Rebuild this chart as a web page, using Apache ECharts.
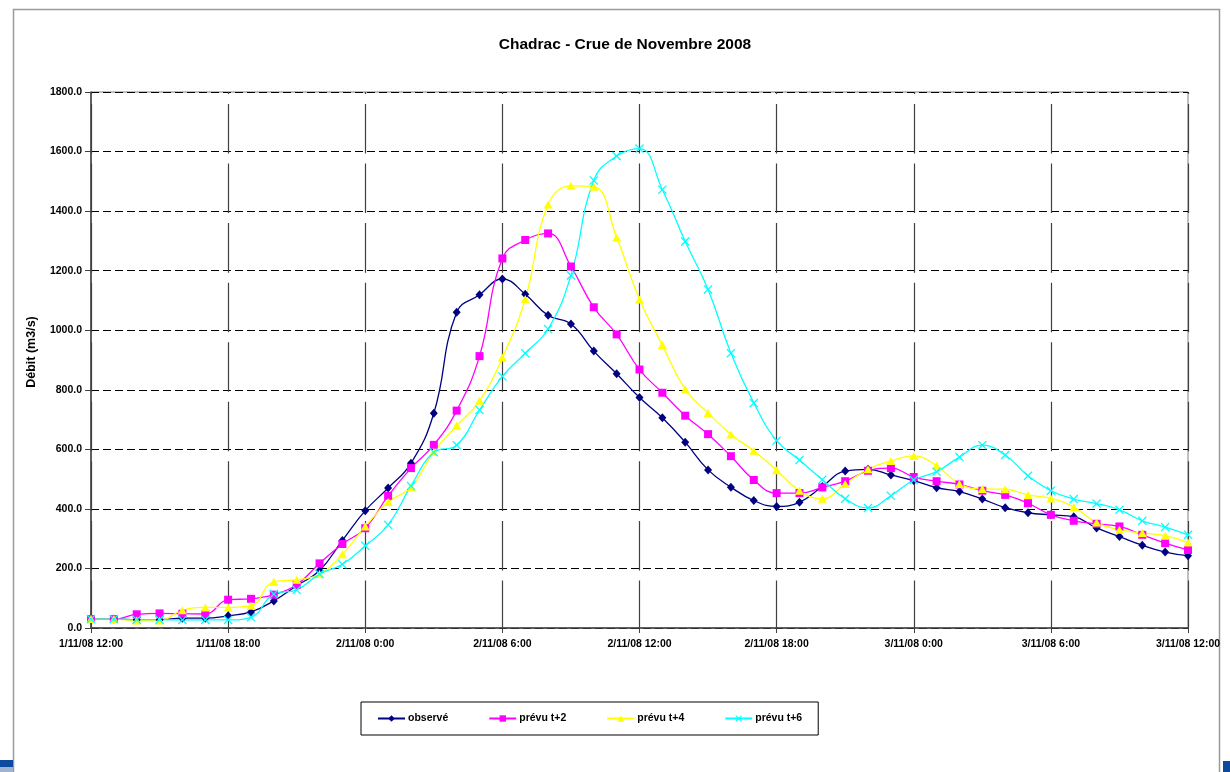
<!DOCTYPE html>
<html>
<head>
<meta charset="utf-8">
<script src="https://cdn.jsdelivr.net/npm/echarts@6/dist/echarts.min.js"></script>
<style>
html,body{margin:0;padding:0;background:#fff;}
#chart{width:1230px;height:772px;}
</style>
</head>
<body>
<div id="chart"></div>
<script>
const times = [
 '1/11/08 12:00','1/11/08 13:00','1/11/08 14:00','1/11/08 15:00','1/11/08 16:00','1/11/08 17:00',
 '1/11/08 18:00','1/11/08 19:00','1/11/08 20:00','1/11/08 21:00','1/11/08 22:00','1/11/08 23:00',
 '2/11/08 0:00','2/11/08 1:00','2/11/08 2:00','2/11/08 3:00','2/11/08 4:00','2/11/08 5:00',
 '2/11/08 6:00','2/11/08 7:00','2/11/08 8:00','2/11/08 9:00','2/11/08 10:00','2/11/08 11:00',
 '2/11/08 12:00','2/11/08 13:00','2/11/08 14:00','2/11/08 15:00','2/11/08 16:00','2/11/08 17:00',
 '2/11/08 18:00','2/11/08 19:00','2/11/08 20:00','2/11/08 21:00','2/11/08 22:00','2/11/08 23:00',
 '3/11/08 0:00','3/11/08 1:00','3/11/08 2:00','3/11/08 3:00','3/11/08 4:00','3/11/08 5:00',
 '3/11/08 6:00','3/11/08 7:00','3/11/08 8:00','3/11/08 9:00','3/11/08 10:00','3/11/08 11:00',
 '3/11/08 12:00'
];
const observe = [30,30,28,28,33,33,41,54,91,142,193,294,394,470,553,721,1060,1119,1172,1121,1050,1021,930,854,774,706,624,531,473,428,408,422,475,527,533,514,495,471,458,433,404,387,380,374,336,307,278,255,243];
const prevu2 = [30,30,46,49,48,47,95,98,112,145,217,282,335,444,537,615,730,913,1241,1303,1325,1214,1077,986,868,790,713,651,577,497,453,453,472,493,528,537,507,493,482,461,447,419,380,360,350,341,313,285,262];
const prevu4 = [30,30,25,25,60,69,69,75,155,162,181,248,341,423,473,592,679,763,908,1105,1422,1485,1482,1311,1103,950,802,722,650,595,530,461,434,484,533,561,578,545,484,467,466,447,435,406,354,330,319,310,287];
const prevu6 = [30,30,28,28,27,27,27,36,114,128,181,214,276,346,477,590,614,732,845,923,1004,1184,1503,1585,1610,1472,1298,1137,923,756,629,564,498,434,403,444,497,525,574,614,581,511,461,433,418,397,360,339,313];
const seriesNames = ['observé','prévu t+2','prévu t+4','prévu t+6'];
const yTicks = {min:0, max:1800, interval:200};

const FONT = 'Liberation Sans, Arial, sans-serif';
const xSym = 'path://M0,1L1,0L5,4L9,0L10,1L6,5L10,9L9,10L5,6L1,10L0,9L4,5Z';

function mkSeries(name, data, color, symbol, size) {
  return {
    name: name, type: 'line', data: data, smooth: 0.45,
    symbol: symbol, symbolSize: size, showSymbol: true,
    lineStyle: {color: color, width: 1.3},
    itemStyle: {color: color, borderWidth: 0},
    emphasis: {disabled: true},
    animation: false
  };
}

const chart = echarts.init(document.getElementById('chart'), null, {renderer: 'canvas'});
chart.setOption({
  animation: false,
  backgroundColor: '#ffffff',
  title: {
    text: 'Chadrac - Crue de Novembre 2008',
    left: 620, top: 32, textAlign: 'center',
    textStyle: {fontFamily: FONT, fontSize: 15.5, fontWeight: 'bold', color: '#000'}
  },
  grid: {left: 91, right: 42, top: 92, bottom: 144, show: true, borderColor: '#808080', borderWidth: 1, backgroundColor: 'transparent'},
  legend: {
    data: seriesNames,
    left: 361, top: 702,
    padding: [11, 16, 11, 16],
    itemWidth: 27, itemHeight: 8, itemGap: 40,
    borderColor: '#000', borderWidth: 1,
    textStyle: {fontFamily: FONT, fontSize: 10.5, fontWeight: 'bold', color: '#000', padding: [0, 0, 0, -2]}
  },
  xAxis: {
    type: 'category', data: times, boundaryGap: false,
    axisLine: {lineStyle: {color: '#404040', width: 1.5}},
    axisTick: {show: true, interval: 5, length: 5, lineStyle: {color: '#404040'}},
    axisLabel: {interval: 5, margin: 11, fontFamily: FONT, fontSize: 10.5, fontWeight: 'bold', color: '#000'},
    splitLine: {show: true, interval: 5, lineStyle: {color: '#404040', width: 1.2, type: [49.56, 10], dashOffset: 47.56}}
  },
  yAxis: {
    type: 'value', min: yTicks.min, max: yTicks.max, interval: yTicks.interval,
    name: 'Débit (m3/s)', nameLocation: 'middle', nameGap: 53, nameRotate: 90,
    nameTextStyle: {fontFamily: FONT, fontSize: 12.5, fontWeight: 'bold', color: '#000', padding: [0, 0, 0, 16]},
    axisLine: {show: true, lineStyle: {color: '#404040', width: 1.5}},
    axisTick: {show: true, inside: false, length: 6, lineStyle: {color: '#404040'}},
    axisLabel: {margin: 9, fontFamily: FONT, fontSize: 10.5, fontWeight: 'bold', color: '#000', formatter: v => v.toFixed(1)},
    splitLine: {show: true, lineStyle: {color: '#000', width: 1, type: [8, 4]}}
  },
  series: [
    mkSeries(seriesNames[0], observe, '#000080', 'diamond', [8, 9]),
    mkSeries(seriesNames[1], prevu2, '#FF00FF', 'rect', 8),
    mkSeries(seriesNames[2], prevu4, '#FFFF00', 'triangle', [9, 8]),
    mkSeries(seriesNames[3], prevu6, '#00FFFF', xSym, 9)
  ],
  graphic: [
    {type: 'polyline', silent: true, shape: {points: [[13.5,772],[13.5,9.5],[1219.5,9.5],[1219.5,772]]}, style: {fill: null, stroke: '#9a9a9a', lineWidth: 1.5}},
    {type: 'rect', silent: true, shape: {x: 0, y: 760, width: 13, height: 7}, style: {fill: '#0b4a9e'}},
    {type: 'rect', silent: true, shape: {x: 0, y: 767, width: 13, height: 5}, style: {fill: '#9fb2d0'}},
    {type: 'rect', silent: true, shape: {x: 1223, y: 761, width: 7, height: 11}, style: {fill: '#0b4a9e'}}
  ]
});
</script>
</body>
</html>
